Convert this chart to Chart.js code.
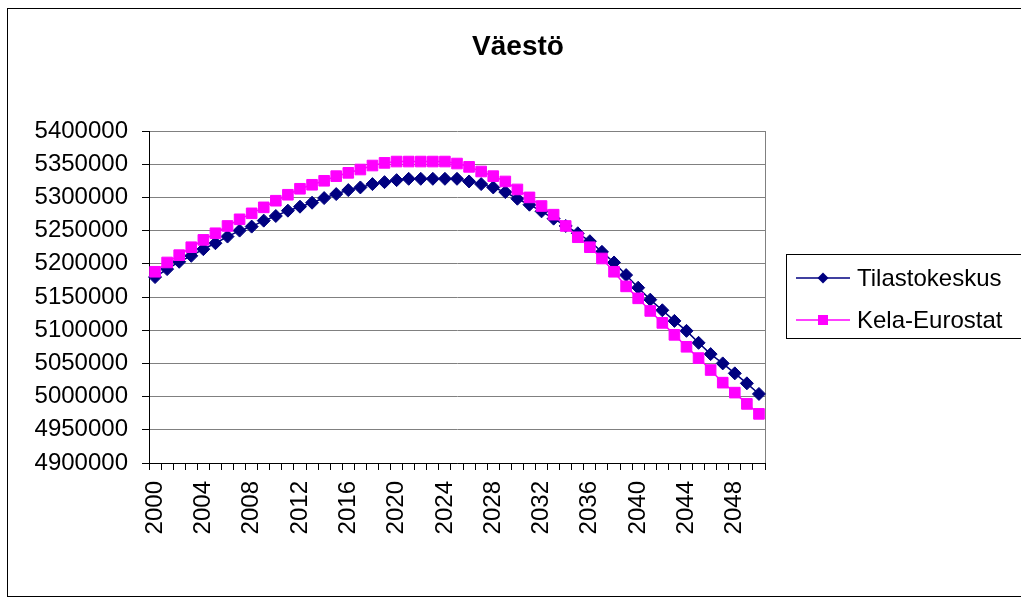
<!DOCTYPE html>
<html>
<head>
<meta charset="utf-8">
<script src="https://cdn.jsdelivr.net/npm/chart.js@4"></script>
<style>
  html, body { margin: 0; padding: 0; background: #fff; overflow: hidden; }
  #wrap { position: relative; width: 1021px; height: 605px; }
  #frame { position: absolute; left: 7px; top: 8px; width: 1100px; height: 589px; border: 1px solid #000; box-sizing: border-box; }
  canvas { position: absolute; left: 0; top: 0; }
</style>
</head>
<body>
<div id="wrap">
  <div id="frame"></div>
  <canvas id="c" width="1021" height="605" style="width:1021px;height:605px"></canvas>
</div>
<script>
const chartTitle = 'Väestö';
const years = ['2000','2001','2002','2003','2004','2005','2006','2007','2008','2009',
  '2010','2011','2012','2013','2014','2015','2016','2017','2018','2019',
  '2020','2021','2022','2023','2024','2025','2026','2027','2028','2029',
  '2030','2031','2032','2033','2034','2035','2036','2037','2038','2039',
  '2040','2041','2042','2043','2044','2045','2046','2047','2048','2049','2050'];
const seriesNames = ['Tilastokeskus', 'Kela-Eurostat'];
const tilastokeskus = [5180000,5192000,5203000,5212000,5222000,5231000,5241000,5250000,5256000,5265000,
  5272000,5280000,5286000,5292000,5299000,5305000,5311000,5315000,5320000,5323000,
  5326000,5328000,5328000,5328000,5328000,5328000,5324000,5320000,5315000,5308000,
  5298000,5289000,5279000,5268000,5257000,5246000,5234000,5218000,5202000,5183000,
  5164000,5146000,5130000,5114000,5099000,5081000,5064000,5050000,5035000,5020000,5004000];
const kelaEurostat = [5188000,5202000,5213000,5225000,5236000,5246000,5257000,5267000,5276000,5285000,
  5295000,5304000,5313000,5319000,5325000,5332000,5337000,5342000,5348000,5352000,
  5354000,5354000,5354000,5354000,5354000,5351000,5346000,5339000,5332000,5324000,
  5312000,5300000,5287000,5274000,5257000,5240000,5225000,5208000,5188000,5166000,
  5148000,5129000,5111000,5093000,5075000,5058000,5040000,5021000,5006000,4989000,4974000];
const yMin = 4900000, yMax = 5400000, yStep = 50000;

const FONT = "'Liberation Sans', Arial, sans-serif";
const NAVY = '#000080', MAGENTA = '#FF00FF';

const plotFrame = {
  id: 'plotFrame',
  beforeDatasetsDraw(chart) {
    const a = chart.chartArea, ctx = chart.ctx;
    ctx.save();
    ctx.strokeStyle = '#808080';
    ctx.lineWidth = 1;
    ctx.beginPath();
    ctx.moveTo(Math.round(a.right) + 0.5, a.top);
    ctx.lineTo(Math.round(a.right) + 0.5, a.bottom);
    ctx.stroke();
    ctx.restore();
  }
};

const customLegend = {
  id: 'customLegend',
  afterDraw(chart) {
    const ctx = chart.ctx;
    ctx.save();
    ctx.strokeStyle = '#000';
    ctx.lineWidth = 1;
    ctx.strokeRect(786.5, 254.5, 300, 84);
    const rows = [278, 320];
    chart.data.datasets.forEach((ds, k) => {
      const y = rows[k];
      ctx.strokeStyle = ds.borderColor;
      ctx.lineWidth = 1.5;
      ctx.beginPath();
      ctx.moveTo(796, y);
      ctx.lineTo(850, y);
      ctx.stroke();
      ctx.fillStyle = ds.pointBackgroundColor;
      ctx.beginPath();
      if (ds.pointStyle === 'rectRot') {
        const r = 5.5;
        ctx.moveTo(823, y - r); ctx.lineTo(823 + r, y); ctx.lineTo(823, y + r); ctx.lineTo(823 - r, y);
        ctx.closePath();
      } else {
        ctx.rect(818, y - 5, 10, 10);
      }
      ctx.fill();
      ctx.fillStyle = '#000';
      ctx.font = '24px ' + FONT;
      ctx.textBaseline = 'middle';
      ctx.textAlign = 'left';
      ctx.fillText(ds.label, 857, y + 1);
    });
    ctx.restore();
  }
};

new Chart(document.getElementById('c'), {
  type: 'line',
  data: {
    labels: years,
    datasets: [
      {
        label: seriesNames[0], data: tilastokeskus,
        borderColor: NAVY, backgroundColor: NAVY,
        pointBackgroundColor: NAVY, pointBorderColor: NAVY,
        pointStyle: 'rectRot', pointRadius: 6.5, pointBorderWidth: 1,
        borderWidth: 1.5, tension: 0, fill: false, order: 1
      },
      {
        label: seriesNames[1], data: kelaEurostat,
        borderColor: MAGENTA, backgroundColor: MAGENTA,
        pointBackgroundColor: MAGENTA, pointBorderColor: MAGENTA,
        pointStyle: 'rect', pointRadius: 7.5, pointBorderWidth: 1,
        borderWidth: 1.5, tension: 0, fill: false, order: 0
      }
    ]
  },
  options: {
    responsive: false,
    animation: false,
    events: [],
    layout: { padding: { left: 15, right: 0, top: 0, bottom: 0 } },
    plugins: {
      legend: { display: false },
      tooltip: { enabled: false },
      title: {
        display: true, text: chartTitle, color: '#000',
        font: { family: FONT, size: 28, weight: 'bold', lineHeight: 1.2 },
        padding: { top: 30, bottom: 67.4 }
      }
    },
    scales: {
      x: {
        type: 'category',
        offset: true,
        grid: { offset: true, drawOnChartArea: false, tickLength: 7, color: '#000', tickColor: '#000', lineWidth: 1 },
        border: { color: '#000', width: 1 },
        ticks: {
          autoSkip: false, minRotation: 90, maxRotation: 90, padding: 11, color: '#000',
          font: { family: FONT, size: 24 },
          callback: function (v, i) { return i % 4 === 0 ? this.getLabelForValue(v) : ''; }
        },
        afterFit(s) { s.height = 605 - 463; }
      },
      y: {
        min: yMin, max: yMax,
        grid: { color: '#808080', tickColor: '#000', tickLength: 7, lineWidth: 1 },
        border: { color: '#000', width: 1 },
        ticks: {
          stepSize: yStep, padding: 14, color: '#000',
          font: { family: FONT, size: 24 },
          callback: (v) => String(v)
        },
        afterFit(s) { s.width = 134; }
      },
      yLegendSpace: {
        type: 'linear', position: 'right', display: true,
        grid: { display: false, drawTicks: false },
        border: { display: false },
        ticks: { display: false },
        afterFit(s) { s.width = 1021 - 765; }
      }
    }
  },
  plugins: [plotFrame, customLegend]
});
</script>
</body>
</html>
